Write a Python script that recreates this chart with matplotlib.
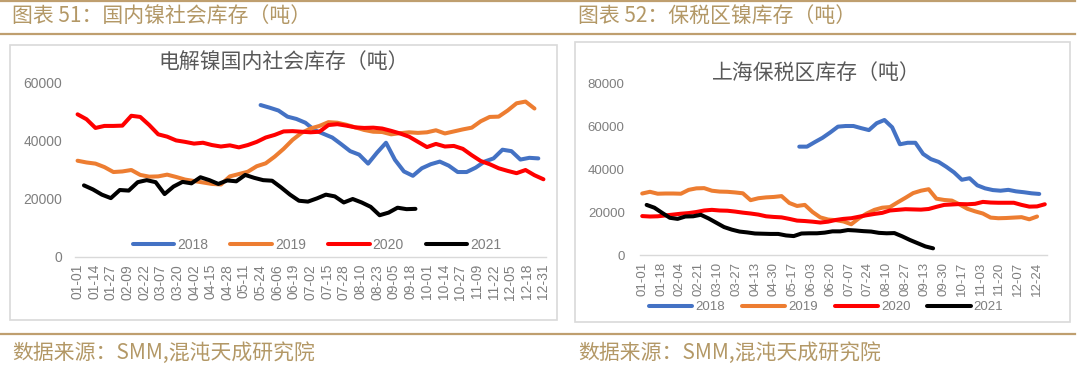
import numpy as np
import pandas as pd
from matplotlib import pyplot as plt
from matplotlib.lines import Line2D
from matplotlib.patches import Rectangle

plt.rcParams['font.family'] = ['Noto Sans CJK SC', 'DejaVu Sans']

years = ['2018', '2019', '2020', '2021']
colors = ['#4472C4', '#ED7D31', '#FF0000', '#000000']

# chart 51: domestic nickel social inventory, weekly values (t)
social_ticks = ['01-01', '01-14', '01-27', '02-09', '02-22', '03-07', '03-20', '04-02',
                '04-15', '04-28', '05-11', '05-24', '06-06', '06-19', '07-02', '07-15',
                '07-28', '08-10', '08-23', '09-05', '09-18', '10-01', '10-14', '10-27',
                '11-09', '11-22', '12-05', '12-18', '12-31']
social_start = ['05-24', '01-01', '01-01', '01-06']
social_2018 = [52400, 51500, 50500, 48400, 47600, 46300, 43800, 42500, 41200, 38900,
               36500, 35300, 32200, 36000, 39400, 33500, 29500, 28000, 30600, 32000,
               32900, 31500, 29300, 29300, 30800, 32900, 34000, 37000, 36500, 33600,
               34200, 34000]
social_2019 = [33200, 32600, 32200, 31000, 29300, 29500, 30000, 28300, 27700, 27800,
               28400, 27600, 26700, 26200, 25700, 25200, 25000, 27800, 28600, 29400,
               31300, 32300, 34600, 37300, 40400, 42800, 44300, 45200, 46500, 46300,
               45600, 44700, 43800, 43200, 43100, 42300, 42700, 43000, 42800, 43000,
               43700, 42600, 43300, 44000, 44600, 46800, 48300, 48400, 50500, 53000,
               53600, 51200]
social_2020 = [49200, 47500, 44500, 45200, 45200, 45300, 48700, 48300, 45500, 42300,
               41500, 40200, 39700, 39100, 39400, 38600, 38100, 38500, 37800, 38600,
               39700, 41200, 42100, 43300, 43400, 43200, 43000, 43200, 45500, 45800,
               45300, 44700, 44500, 44600, 44300, 43500, 42600, 41500, 39700, 37900,
               39000, 38100, 38300, 37300, 35100, 33100, 32000, 30600, 29700, 28900,
               30000, 28200, 26800]
social_2021 = [24700, 23300, 21500, 20300, 23100, 22900, 25800, 26500, 25800, 21700,
               24300, 25900, 25400, 27500, 26500, 25200, 26400, 26100, 28300, 27300,
               26500, 26300, 24000, 21500, 19400, 19100, 20200, 21500, 20900, 18800,
               20000, 18800, 17300, 14400, 15300, 17000, 16500, 16600]

# chart 52: Shanghai bonded zone inventory, weekly values (t)
bonded_ticks = ['01-01', '01-18', '02-04', '02-21', '03-10', '03-27', '04-13', '04-30',
                '05-17', '06-03', '06-20', '07-07', '07-24', '08-10', '08-27', '09-13',
                '09-30', '10-17', '11-03', '11-20', '12-07', '12-24']
bonded_start = ['05-23', '01-01', '01-01', '01-05']
bonded_2018 = [50400, 50400, 52500, 54500, 57000, 59700, 60000, 60000, 59000, 58100,
               61300, 62800, 59400, 51500, 52200, 52200, 47000, 44600, 43300, 41000,
               38400, 35000, 35700, 32400, 31000, 30200, 29900, 30300, 29600, 29200,
               28700, 28400]
bonded_2019 = [28600, 29400, 28500, 28600, 28600, 28500, 30300, 31000, 31100, 29900,
               29500, 29400, 29100, 28700, 25500, 26400, 26800, 27000, 27400, 24200,
               22800, 23300, 20000, 17500, 16500, 16200, 15600, 14300, 17100, 19300,
               21000, 22000, 22300, 24500, 26600, 28800, 29900, 30600, 26200, 25600,
               25300, 23500, 21500, 20300, 19300, 17400, 17100, 17200, 17400, 17600,
               16600, 17900]
bonded_2020 = [18100, 17900, 18000, 18400, 18800, 19200, 19500, 20000, 20700, 21000,
               20700, 20600, 20200, 19700, 19300, 18800, 18000, 17700, 17500, 16800,
               16000, 15800, 15500, 15100, 15500, 16300, 16800, 17100, 17800, 18500,
               19100, 19600, 20700, 21000, 21300, 21200, 21100, 21400, 22400, 23300,
               23500, 23700, 23600, 23800, 24700, 24400, 24300, 24300, 24300, 23300,
               22500, 22600, 23600]
bonded_2021 = [23300, 22000, 19600, 17300, 16800, 17900, 18000, 18700, 17000, 15000,
               13000, 11800, 10900, 10500, 10000, 9900, 9800, 9800, 9100, 8800,
               10000, 10100, 10100, 10400, 11000, 11000, 11600, 11400, 11100, 10900,
               10300, 10100, 10200, 8700, 7000, 5500, 4000, 3100]

W, H = 1080, 367
GOLD = '#bf9f6f'
TAN = '#b39866'
GRAY = '#7f7f7f'


def doy(md):
    return pd.Timestamp('2021-' + md).dayofyear - 1


def fx(px):
    return px / W


def fy(py):
    return 1 - py / H


def draw_panel(fig, rect, ticks, starts, series, ymax, fsize, ypad):
    ax = fig.add_axes(rect)
    handles = []
    for start, vals, c in zip(starts, series, colors):
        x = doy(start) + 7 * np.arange(len(vals))
        h, = ax.plot(x, vals, color=c, lw=2.9, solid_capstyle='round',
                     solid_joinstyle='round')
        handles.append(h)
    ax.set_xlim(-2, 366)
    ax.set_ylim(0, ymax)
    ax.set_yticks(np.arange(0, ymax + 1, 20000))
    ax.set_xticks([doy(t) for t in ticks])
    ax.set_xticklabels(ticks, rotation=90, family=['Liberation Sans'],
                       fontsize=fsize, color=GRAY)
    ax.set_yticklabels([str(v) for v in np.arange(0, ymax + 1, 20000)],
                       family=['Liberation Sans'], fontsize=fsize, color=GRAY)
    ax.tick_params(length=0)
    ax.tick_params(axis='y', pad=ypad)
    ax.tick_params(axis='x', pad=5)
    for s in ['top', 'right', 'left']:
        ax.spines[s].set_visible(False)
    ax.spines['bottom'].set_color('#d9d9d9')
    ax.spines['bottom'].set_linewidth(1)
    ax.patch.set_alpha(0)
    return ax, handles


fig = plt.figure(figsize=(W / 100, H / 100), dpi=100)

# frames
fig.patches.append(Rectangle((fx(10), fy(320)), 547 / W, 275 / H, transform=fig.transFigure,
                             fill=False, ec='#d9d9d9', lw=1.2))
fig.patches.append(Rectangle((fx(575), fy(322)), 495 / W, 280 / H, transform=fig.transFigure,
                             fill=False, ec='#d9d9d9', lw=1.2))

# gold rules
for yy in [1, 34, 334]:
    fig.lines.append(Line2D([0, fx(1075)], [fy(yy), fy(yy)], transform=fig.transFigure,
                            color=GOLD, lw=1.6))

# left panel
ax1, h1 = draw_panel(fig, [fx(75), fy(257), (546 - 75) / W, (257 - 83) / H],
                     social_ticks, social_start,
                     [social_2018, social_2019, social_2020, social_2021], 60000, 10, 9)
fig.text(fx(284), fy(63), '电解镍国内社会库存（吨）', ha='center', va='center',
         fontsize=15, color='#595959')
fig.legend(h1, years, loc='center', bbox_to_anchor=(fx(317), fy(245)), ncol=4,
           frameon=False, handlelength=3, handletextpad=0.2, columnspacing=1.6,
           prop={'family': 'Liberation Sans', 'size': 10}, labelcolor=GRAY)

# right panel
ax2, h2 = draw_panel(fig, [fx(640), fy(255), (1047 - 640) / W, (255 - 83) / H],
                     bonded_ticks, bonded_start,
                     [bonded_2018, bonded_2019, bonded_2020, bonded_2021], 80000, 9.5, 11)
fig.text(fx(816), fy(73), '上海保税区库存（吨）', ha='center', va='center',
         fontsize=15, color='#595959')
fig.legend(h2, years, loc='center', bbox_to_anchor=(fx(826), fy(307)), ncol=4,
           frameon=False, handlelength=3.3, handletextpad=0.2, columnspacing=1.3,
           prop={'family': 'Liberation Sans', 'size': 9.5}, labelcolor=GRAY)

# headers and sources
fig.text(fx(12), fy(17), '图表 51：国内镍社会库存（吨）', va='center', fontsize=15, color=TAN)
fig.text(fx(578), fy(17), '图表 52：保税区镍库存（吨）', va='center', fontsize=15, color=TAN)
fig.text(fx(12), fy(353), '数据来源：SMM,混沌天成研究院', va='center', fontsize=15, color=TAN)
fig.text(fx(578), fy(353), '数据来源：SMM,混沌天成研究院', va='center', fontsize=15, color=TAN)

fig.savefig('out.png', dpi=100)
